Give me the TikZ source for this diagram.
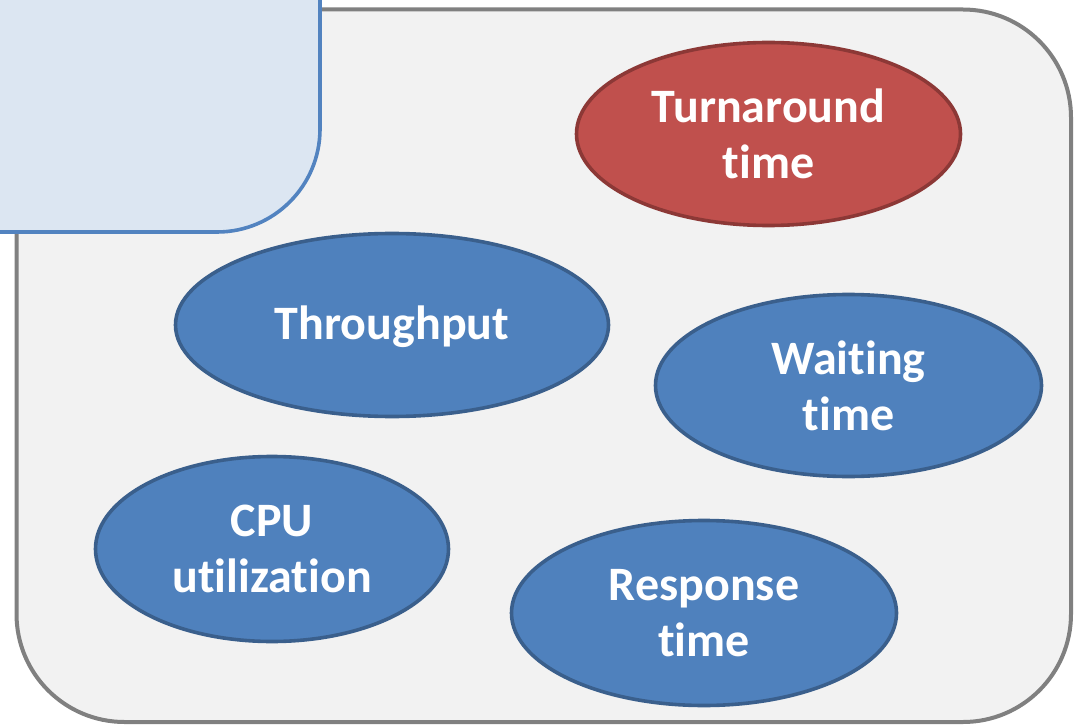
\documentclass[tikz,border=0pt]{standalone}
\usepackage{fontspec}
\setmainfont{Carlito}[Ligatures={NoCommon}]
\usetikzlibrary{shapes.geometric}
\definecolor{outerfill}{HTML}{F2F2F2}
\definecolor{outerline}{HTML}{808080}
\definecolor{panelfill}{HTML}{DCE6F2}
\definecolor{panelline}{HTML}{5283C0}
\definecolor{bluefill}{HTML}{4F81BD}
\definecolor{blueline}{HTML}{3A5F8C}
\definecolor{redfill}{HTML}{C0504D}
\definecolor{redline}{HTML}{8C3836}
\tikzset{
  metric/.style={ellipse, draw=blueline, fill=bluefill, line width=3.6pt, inner sep=0pt,
    text=white, align=center, font=\bfseries\fontsize{48}{56}\selectfont},
  hotmetric/.style={metric, draw=redline, fill=redfill},
  outerbox/.style={draw=outerline, fill=outerfill, line width=4pt, rounded corners=108pt},
  panelbox/.style={draw=panelline, fill=panelfill, line width=3.6pt, rounded corners=103pt}
}
\begin{document}
\begin{tikzpicture}[x=1pt,y=-1pt]
\useasboundingbox (0,0) rectangle (1078,727);
\clip (0,0) rectangle (1078,727);
\path[outerbox] (16.5,9.5) rectangle (1071,722);
\path[panelbox] (-200,-200) rectangle (320,232);
\node[hotmetric, minimum width=384pt, minimum height=183pt] (turn) at (768.5,134) {Turnaround\\time};
\node[metric, minimum width=433pt, minimum height=183pt, text depth=4pt] (thru) at (392,325) {Throughput};
\node[metric, minimum width=386pt, minimum height=182pt] (wait) at (848.5,385.5) {Waiting\\time};
\node[metric, minimum width=353pt, minimum height=185pt] (cpu) at (272,549) {CPU\\utilization};
\node[metric, minimum width=385pt, minimum height=185pt] (resp) at (704,613) {Response\\time};
\end{tikzpicture}
\end{document}
